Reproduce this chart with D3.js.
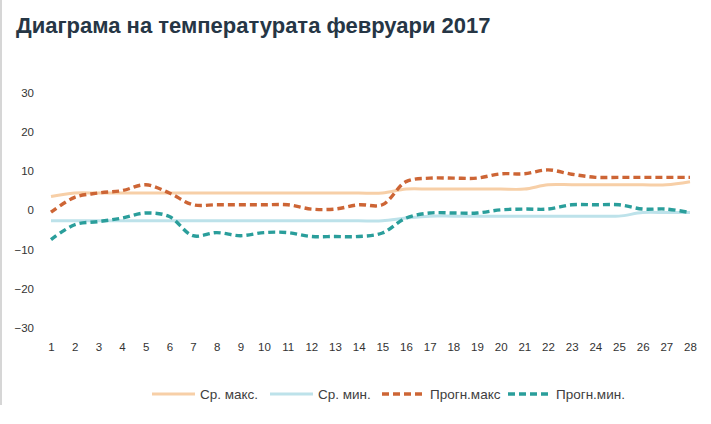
<!DOCTYPE html>
<html>
<head>
<meta charset="utf-8">
<script src="https://cdn.jsdelivr.net/npm/d3@7"></script>
<style>
  body { margin: 0; background: #fff; }
  text { font-family: "Liberation Sans", Arial, sans-serif; }
</style>
</head>
<body>
<svg id="chart" width="711" height="424"></svg>
<script>
// days of february
var days = [1,2,3,4,5,6,7,8,9,10,11,12,13,14,15,16,17,18,19,20,21,22,23,24,25,26,27,28];
var yTicks = [30,20,10,0,-10,-20,-30];

// average max / min
var avgMax = [3.5,4.4,4.4,4.4,4.4,4.4,4.4,4.4,4.4,4.4,4.4,4.4,4.4,4.4,4.4,5.4,5.4,5.4,5.4,5.4,5.4,6.5,6.5,6.5,6.5,6.5,6.5,7.3];
var avgMin = [-2.7,-2.7,-2.7,-2.7,-2.7,-2.7,-2.7,-2.7,-2.7,-2.7,-2.7,-2.7,-2.7,-2.7,-2.7,-2.0,-1.5,-1.5,-1.5,-1.5,-1.5,-1.5,-1.5,-1.5,-1.5,-0.6,-0.6,-0.6];
// forecast max / min
var fcMax = [-0.5,3.3,4.4,5.0,6.5,4.4,1.4,1.4,1.4,1.4,1.4,0.3,0.3,1.4,1.4,7.3,8.2,8.2,8.2,9.3,9.3,10.3,9.2,8.4,8.4,8.4,8.4,8.4];
var fcMin = [-7.5,-3.7,-2.9,-2.0,-0.7,-1.6,-6.5,-5.7,-6.5,-5.7,-5.7,-6.7,-6.7,-6.7,-5.8,-2.0,-0.7,-0.7,-0.7,0.1,0.3,0.3,1.4,1.4,1.4,0.3,0.3,-0.6];

var seriesNames = ["Ср. макс.", "Ср. мин.", "Прогн.макс", "Прогн.мин."];

var series = [
    {name: seriesNames[0], values: avgMax, color: "#f7cfa7", dash: null, width: 3},
    {name: seriesNames[1], values: avgMin, color: "#bde2ea", dash: null, width: 3},
    {name: seriesNames[2], values: fcMax, color: "#cd6535", dash: "7,4", width: 3.4},
    {name: seriesNames[3], values: fcMin, color: "#2a9e9b", dash: "7,4", width: 3.4}
];

var svg = d3.select("#chart");

// frame edge on the left
svg.append("line")
    .attr("x1", 1).attr("x2", 1)
    .attr("y1", 0).attr("y2", 405)
    .attr("stroke", "#c8c8c8")
    .attr("stroke-width", 1.5);

svg.append("text")
    .attr("x", 16)
    .attr("y", 33)
    .attr("font-size", "22px")
    .attr("font-weight", "bold")
    .attr("fill", "#263645")
    .text("Диаграма на температурата февруари 2017");

var x = d3.scalePoint().domain(days).range([51, 690]);
var y = d3.scaleLinear().domain([-30, 30]).range([327.8, 92.7]);

var yAxis = svg.append("g")
    .attr("transform", "translate(34,0)")
    .call(d3.axisLeft(y).tickValues(yTicks).tickSize(0).tickPadding(0));
yAxis.select(".domain").remove();
yAxis.selectAll("text")
    .attr("font-size", "11.5px")
    .attr("fill", "#333")
    .attr("font-family", "'Liberation Sans', Arial, sans-serif");

var xAxis = svg.append("g")
    .attr("transform", "translate(0,343)")
    .call(d3.axisBottom(x).tickSize(0).tickPadding(0));
xAxis.select(".domain").remove();
xAxis.selectAll("text")
    .attr("font-size", "11.5px")
    .attr("fill", "#333")
    .attr("font-family", "'Liberation Sans', Arial, sans-serif");

var line = d3.line()
    .x(function(d, i){ return x(days[i]); })
    .y(function(d){ return y(d); })
    .curve(d3.curveCatmullRom.alpha(0.5));

svg.append("g").selectAll("path")
    .data(series)
    .enter()
    .append("path")
    .attr("d", function(s){ return line(s.values); })
    .attr("fill", "none")
    .attr("stroke", function(s){ return s.color; })
    .attr("stroke-width", function(s){ return s.width; })
    .attr("stroke-dasharray", function(s){ return s.dash; });

// legend
var legendX = [152, 270, 382, 508];
var legend = svg.append("g").selectAll("g")
    .data(series)
    .enter()
    .append("g")
    .attr("transform", function(s, i){ return "translate(" + legendX[i] + ",394)"; });

legend.append("line")
    .attr("x1", 0).attr("x2", 43)
    .attr("y1", 0).attr("y2", 0)
    .attr("stroke", function(s){ return s.color; })
    .attr("stroke-width", function(s){ return s.width; })
    .attr("stroke-dasharray", function(s){ return s.dash; });

legend.append("text")
    .attr("x", 48)
    .attr("y", 4.5)
    .attr("font-size", "13.5px")
    .attr("fill", "#404040")
    .text(function(s){ return s.name; });
</script>
</body>
</html>
